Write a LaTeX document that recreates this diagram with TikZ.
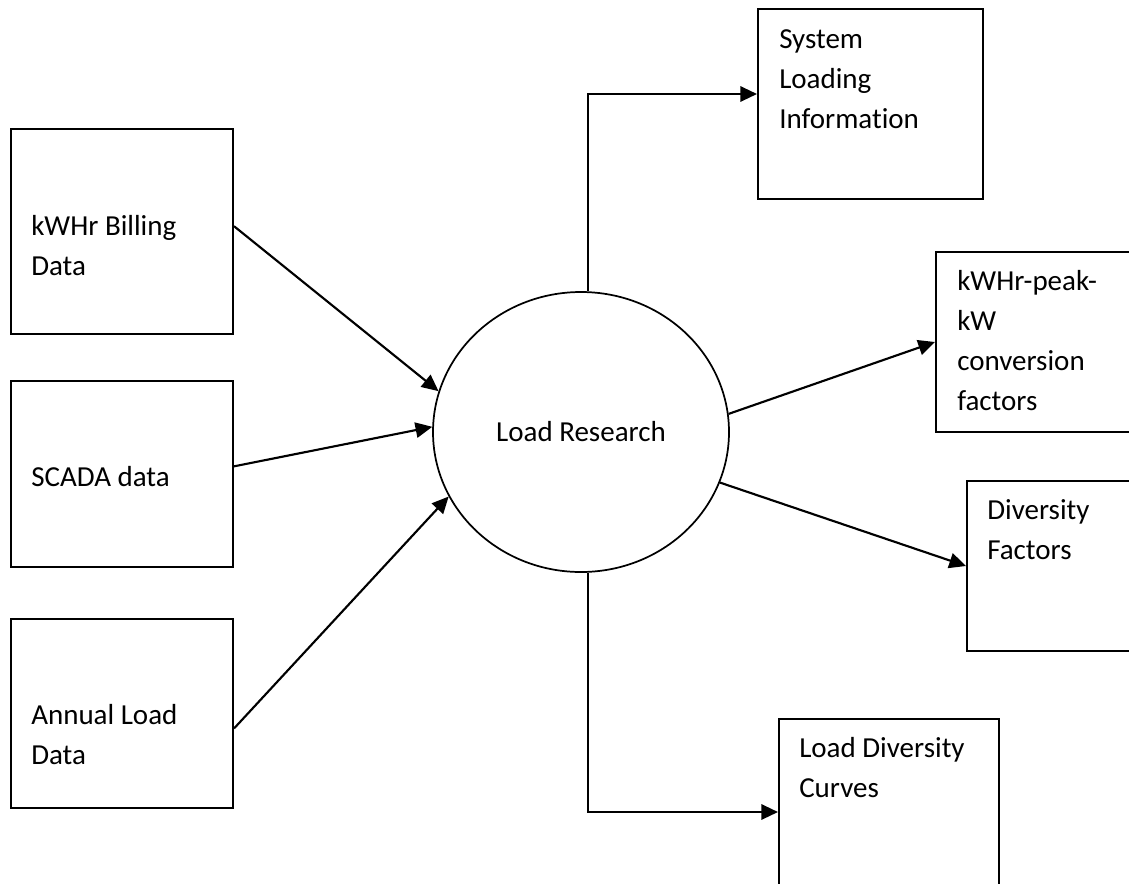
\documentclass[tikz,border=0pt]{standalone}
\usepackage{fontspec}
\setmainfont{Carlito}[Ligatures=NoCommon]
\usetikzlibrary{arrows.meta,positioning,shapes.geometric}

\newcommand{\boxfont}{\fontsize{21.75pt}{30pt}\selectfont}

\begin{document}
\begin{tikzpicture}[
  x=0.75pt, y=-0.75pt,
  srcbox/.style={rectangle, draw, line width=1.5pt, minimum width=166.5pt, inner sep=0pt},
  outbox/.style={rectangle, draw, line width=1.5pt, inner sep=0pt},
  boxtext/.style={anchor=base west, align=left, inner sep=0pt, font=\boxfont},
  hub/.style={ellipse, draw, line width=1.3pt, minimum width=222pt, minimum height=210pt, inner sep=0pt, font=\boxfont},
  arrow/.style={-{Triangle[length=12.5pt,width=11.5pt]}, line width=1.6pt}
]
\useasboundingbox (0,0) rectangle (1129,883);

% Input boxes (left column)
\node[srcbox, minimum height=153.75pt] (billing) at (122,231.5) {};
\node[srcbox, minimum height=139.5pt, below=34pt of billing] (scada) {};
\node[srcbox, minimum height=141.75pt, below=37pt of scada] (annual) {};

% Central process
\node[hub] (research) at (581,432) {Load Research};

% Output boxes (right side)
\node[outbox, minimum width=168.75pt, minimum height=142.5pt] (sysload) at (870.5,104) {};
\node[outbox, minimum width=153pt, minimum height=135pt] (convfac) at (1038,342) {};
\node[outbox, minimum width=129.75pt, minimum height=127.5pt] (divfac) at (1053.5,566) {};
\node[outbox, minimum width=165pt, minimum height=139.5pt] (divcurve) at (889,812) {};

% Box texts (anchored at the baseline of the last line)
\node[boxtext] (billingtxt) at ([xshift=15.75pt, yshift=-110.25pt]billing.north west) {kWHr Billing\\Data};
\node[boxtext] (scadatxt) at ([xshift=15.75pt, yshift=-79.5pt]scada.north west) {SCADA data};
\node[boxtext] (annualtxt) at ([xshift=15.75pt, yshift=-110.25pt]annual.north west) {Annual Load\\Data};
\node[boxtext] (sysloadtxt) at ([xshift=16.5pt, yshift=-90pt]sysload.north west) {System\\Loading\\Information};
\node[boxtext] (convfactxt) at ([xshift=16.5pt, yshift=-119.25pt]convfac.north west) {kWHr-peak-\\kW\\conversion\\factors};
\node[boxtext] (divfactxt) at ([xshift=15.75pt, yshift=-59.25pt]divfac.north west) {Diversity\\Factors};
\node[boxtext] (divcurvetxt) at ([xshift=15.75pt, yshift=-59.25pt]divcurve.north west) {Load Diversity\\Curves};

% Inputs to the process
\draw[arrow] ([yshift=4pt]billing.east) -- (research.164);
\draw[arrow] ([yshift=6pt]scada.east) -- (research.178);
\draw[arrow] ([yshift=-11.5pt]annual.east) -- (research.206);

% Process to outputs
\draw[arrow] (research.87) |- ([yshift=7.5pt]sysload.west);
\draw[arrow] (research.7) -- (convfac.west);
\draw[arrow] (research.340) -- (divfac.west);
\draw[arrow] (research.273) |- (divcurve.west);

\end{tikzpicture}
\end{document}
